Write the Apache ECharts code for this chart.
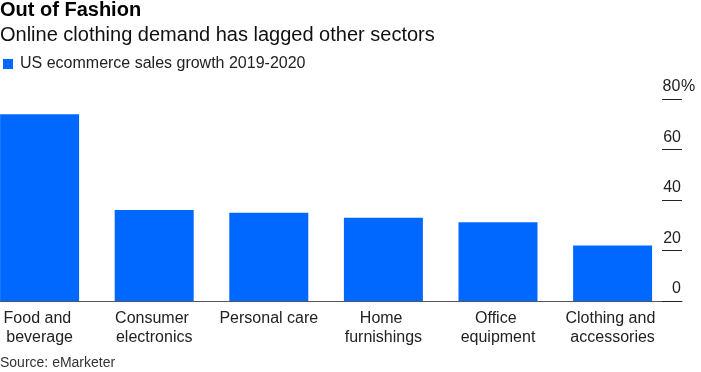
<!DOCTYPE html>
<html>
<head>
<meta charset="utf-8">
<script src="https://cdn.jsdelivr.net/npm/echarts@6/dist/echarts.min.js"></script>
<style>
html,body{margin:0;padding:0;background:#fff;}
#c{width:701px;height:372px;}
</style>
</head>
<body>
<div id="c"></div>
<script>
const titleText = 'Out of Fashion';
const subtitleText = 'Online clothing demand has lagged other sectors';
const sourceText = 'Source: eMarketer';
const seriesName = 'US ecommerce sales growth 2019-2020';
const categories = ['Food and beverage', 'Consumer electronics', 'Personal care', 'Home furnishings', 'Office equipment', 'Clothing and accessories'];
const values = [74, 36, 35, 33, 31.2, 22];
const yTicks = [0, 20, 40, 60, 80];

const FONT = '"Liberation Sans", Arial, Helvetica, sans-serif';
const BLUE = '#0068FF';

const chart = echarts.init(document.getElementById('c'));
chart.setOption({
  animation: false,
  textStyle: { fontFamily: FONT },
  title: [
    { text: titleText, left: 0, top: 0, padding: 0, textStyle: { fontFamily: FONT, fontSize: 20, fontWeight: 'bold', color: '#000' } },
    { text: subtitleText, left: 0, top: 25, padding: 0, textStyle: { fontFamily: FONT, fontSize: 20, fontWeight: 'normal', color: '#111' } },
    { text: sourceText, left: 0, top: 356, padding: 0, textStyle: { fontFamily: FONT, fontSize: 14, fontWeight: 'normal', color: '#333' } }
  ],
  legend: {
    left: 3, top: 56, padding: 0,
    itemWidth: 10, itemHeight: 10, icon: 'rect',
    textStyle: { fontFamily: FONT, fontSize: 16, color: '#222', padding: [0,0,0,2] },
    data: [seriesName]
  },
  grid: [
    { left: -17.7, right: 31.1, top: 99, bottom: 71, outerBoundsMode: 'none', containLabel: false },
    { left: 0, right: 19, top: 99, bottom: 71, outerBoundsMode: 'none', containLabel: false }
  ],
  xAxis: [
    {
      type: 'category', gridIndex: 0, data: categories,
      axisLine: { show: false }, axisTick: { show: false },
      axisLabel: {
        interval: 0, margin: 8, width: 105, overflow: 'break',
        fontFamily: FONT, fontSize: 16, lineHeight: 19, color: '#222'
      }
    },
    {
      type: 'value', gridIndex: 1, min: 0, max: 1,
      axisLine: { show: true, lineStyle: { color: '#555', width: 1 } },
      axisTick: { show: false }, axisLabel: { show: false }, splitLine: { show: false }
    }
  ],
  yAxis: [
    {
      type: 'value', gridIndex: 0, position: 'right', offset: 12.1,
      min: yTicks[0], max: yTicks[yTicks.length-1], interval: 20,
      axisLine: { show: false },
      axisTick: { show: true, inside: true, length: 20, lineStyle: { color: '#222', width: 1 } },
      splitLine: { show: false },
      axisLabel: {
        inside: true, margin: 20, align: 'left', verticalAlign: 'bottom',
        formatter: function (v) { return '{n|' + v + '}' + (v === yTicks[yTicks.length-1] ? '{p|%}' : ''); },
        rich: {
          n: { fontFamily: FONT, fontSize: 16, color: '#222', width: 19, align: 'right', padding: [0,0,4,0] },
          p: { fontFamily: FONT, fontSize: 16, color: '#222', padding: [0,0,4,0] }
        }
      }
    },
    { type: 'value', gridIndex: 1, min: yTicks[0], max: yTicks[yTicks.length-1], show: false }
  ],
  series: [{
    name: seriesName, type: 'bar', xAxisIndex: 0, yAxisIndex: 0,
    data: values, barWidth: 79,
    itemStyle: { color: BLUE }
  }]
});
</script>
</body>
</html>
